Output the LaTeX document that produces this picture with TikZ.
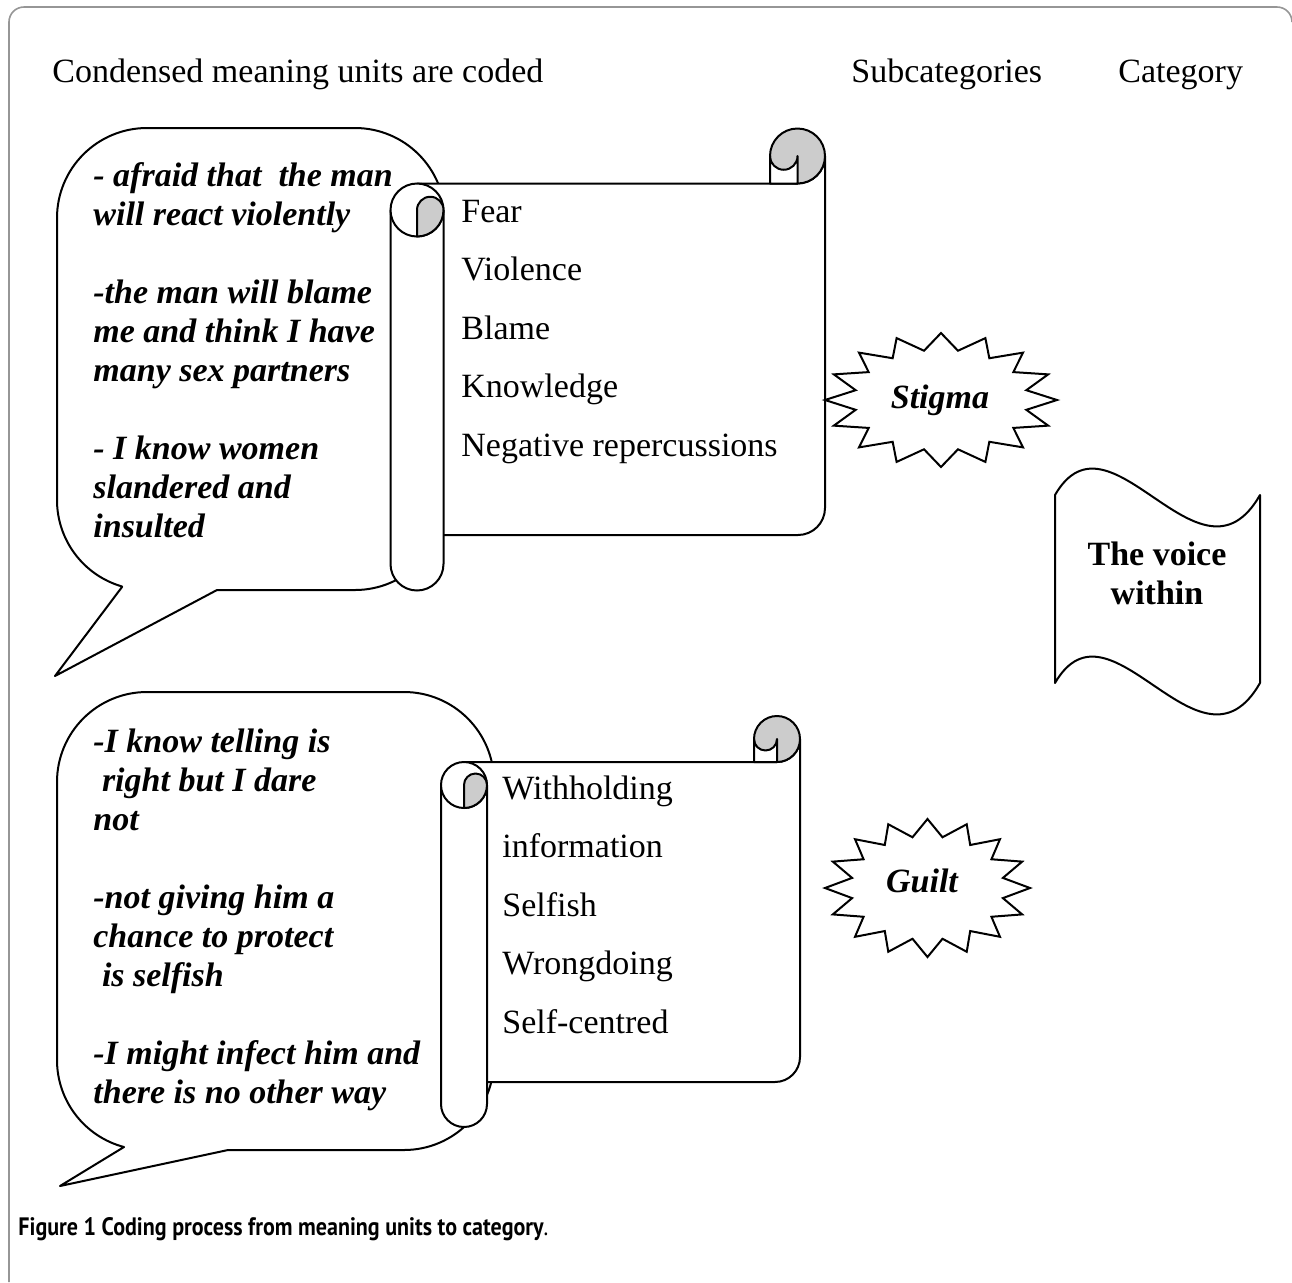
\documentclass[tikz,border=0pt]{standalone}
\usepackage{fontspec}
\usepackage{graphicx}
\setmainfont{Liberation Serif}
\newfontfamily\capfont{PT Sans}
\definecolor{curlgray}{RGB}{204,204,204}
\definecolor{framegray}{RGB}{150,150,150}
\begin{document}
\begin{tikzpicture}[x=0.5pt,y=0.5pt,
  outl/.style={draw=black, line width=1pt, fill=white, line join=round},
  curl/.style={draw=black, line width=1pt, fill=curlgray, line join=round},
  burst/.style={draw=black, line width=1pt, fill=white, line join=miter},
  bodytext/.style={font=\fontsize{17pt}{29.25pt}\selectfont, align=left, inner sep=0pt, anchor=base west},
  quotetext/.style={font=\fontsize{17pt}{19.5pt}\selectfont\bfseries\itshape, align=left, inner sep=0pt, anchor=base west},
  headtext/.style={font=\fontsize{17pt}{20pt}\selectfont, inner sep=0pt, anchor=base west},
  bursttext/.style={font=\fontsize{17pt}{20pt}\selectfont\bfseries\itshape, inner sep=0pt, anchor=base},
]
\useasboundingbox (0,0) rectangle (1292,-1282);
% frame
\draw[framegray, line width=0.8pt] (9,-1282) -- (9,-22) arc[start angle=180,end angle=90,radius=15] -- (1277,-7) arc[start angle=90,end angle=0,radius=15];

% headers
\node[headtext] (h1) at (52,-82) {Condensed meaning units are coded};
\node[headtext] (h2) at (851,-82) {Subcategories};
\node[headtext] (h3) at (1118,-82) {Category};

% ---------- bubble 1 ----------
\draw[outl] (122,-587) -- (55,-676) -- (217,-590) -- (355,-590)
  arc[start angle=270,end angle=360,radius=90] -- (445,-218)
  arc[start angle=0,end angle=90,radius=90] -- (147,-128)
  arc[start angle=90,end angle=180,radius=90] -- (57,-500)
  arc[start angle=180,end angle=253.9,radius=90] -- cycle;

% ---------- scroll 1 ----------
\draw[outl] (417,-183.5) -- (797.5,-183.5) arc[start angle=270,end angle=360,radius=27.5]
  -- (825,-508) arc[start angle=0,end angle=-90,radius=27] -- (417,-535) -- cycle;
\draw[curl] (797.5,-156) circle[radius=27.5];
\draw[outl] (770,-183.5) -- (770,-156) arc[start angle=180,end angle=360,radius=13.75] -- (797.5,-183.5) -- cycle;
\draw[outl] (390.5,-210) -- (390.5,-564) arc[start angle=180,end angle=360,radius=26.5] -- (443.5,-210) -- cycle;
\draw[outl] (417,-210) circle[radius=26.5];
\draw[curl] (417,-236.5) -- (417,-210) arc[start angle=180,end angle=0,radius=13.25]
  arc[start angle=0,end angle=-90,radius=26.5] -- cycle;

% ---------- bubble 2 ----------
\draw[outl] (124,-1147) -- (60,-1186) -- (228,-1150) -- (404,-1150)
  arc[start angle=270,end angle=360,radius=90] -- (494,-782)
  arc[start angle=0,end angle=90,radius=90] -- (147,-692)
  arc[start angle=90,end angle=180,radius=90] -- (57,-1060)
  arc[start angle=180,end angle=255.2,radius=90] -- cycle;

% ---------- scroll 2 ----------
\draw[outl] (464,-762) -- (777,-762) arc[start angle=270,end angle=360,radius=23]
  -- (800,-1057) arc[start angle=0,end angle=-90,radius=25] -- (464,-1082) -- cycle;
\draw[curl] (777,-739) circle[radius=23];
\draw[outl] (754,-762) -- (754,-739) arc[start angle=180,end angle=360,radius=11.5] -- (777,-762) -- cycle;
\draw[outl] (441,-785) -- (441,-1104) arc[start angle=180,end angle=360,radius=23] -- (487,-785) -- cycle;
\draw[outl] (464,-785) circle[radius=23];
\draw[curl] (464,-808) -- (464,-785) arc[start angle=180,end angle=0,radius=11.5]
  arc[start angle=0,end angle=-90,radius=23] -- cycle;

% ---------- bursts ----------
\draw[burst] plot[samples at={0,...,31}]
  ({941+116*(1-0.25*mod(\x,2))*cos(90+\x*11.25)}, {-400+67*(1-0.25*mod(\x,2))*sin(90+\x*11.25)}) -- cycle;
\draw[burst] plot[samples at={0,...,31}]
  ({927.5+102.5*(1-0.25*mod(\x,2))*cos(90+\x*11.25)}, {-888+69*(1-0.25*mod(\x,2))*sin(90+\x*11.25)}) -- cycle;

% ---------- wave flag ----------
\draw[outl] (1055,-495) .. controls (1110,-400) and (1200,-600) .. (1260,-495)
  -- (1260,-683) .. controls (1200,-788) and (1110,-588) .. (1055,-683) -- cycle;

% ---------- texts (base anchor = last line) ----------
\node[quotetext] (q1) at (93,-537) {- afraid that\ \ the man\\ will react violently\\[19.5pt]
  -the man will blame\\ me and think I have\\ many sex partners\\[19.5pt]
  - I know women\\ slandered and\\ insulted};
\node[bodytext] (s1) at (461,-456) {Fear\\ Violence\\ Blame\\ Knowledge\\ Negative repercussions};
\node[quotetext] (q2) at (93,-1103) {-I know telling is\\ \hspace*{4.3pt}right but I dare\\ not\\[19.5pt]
  -not giving him a\\ chance to protect\\ \hspace*{4.3pt}is selfish\\[19.5pt]
  -I might infect him and\\ there is no other way};
\node[bodytext] (s2) at (502,-1033) {Withholding\\ information\\ Selfish\\ Wrongdoing\\ Self-centred};
\node[bursttext] (stigma) at (940,-408) {Stigma};
\node[bursttext] (guilt) at (922,-892) {Guilt};
\node[font=\fontsize{17pt}{19.5pt}\selectfont\bfseries, align=center, inner sep=0pt, anchor=base] (voice) at (1157,-604) {The voice\\ within};

% caption
\node[inner sep=0pt, anchor=base west] (cap) at (18,-1235)
  {\resizebox{265pt}{9pt}{\capfont\textbf{Figure 1 Coding process from meaning units to category}.}};
\end{tikzpicture}
\end{document}
